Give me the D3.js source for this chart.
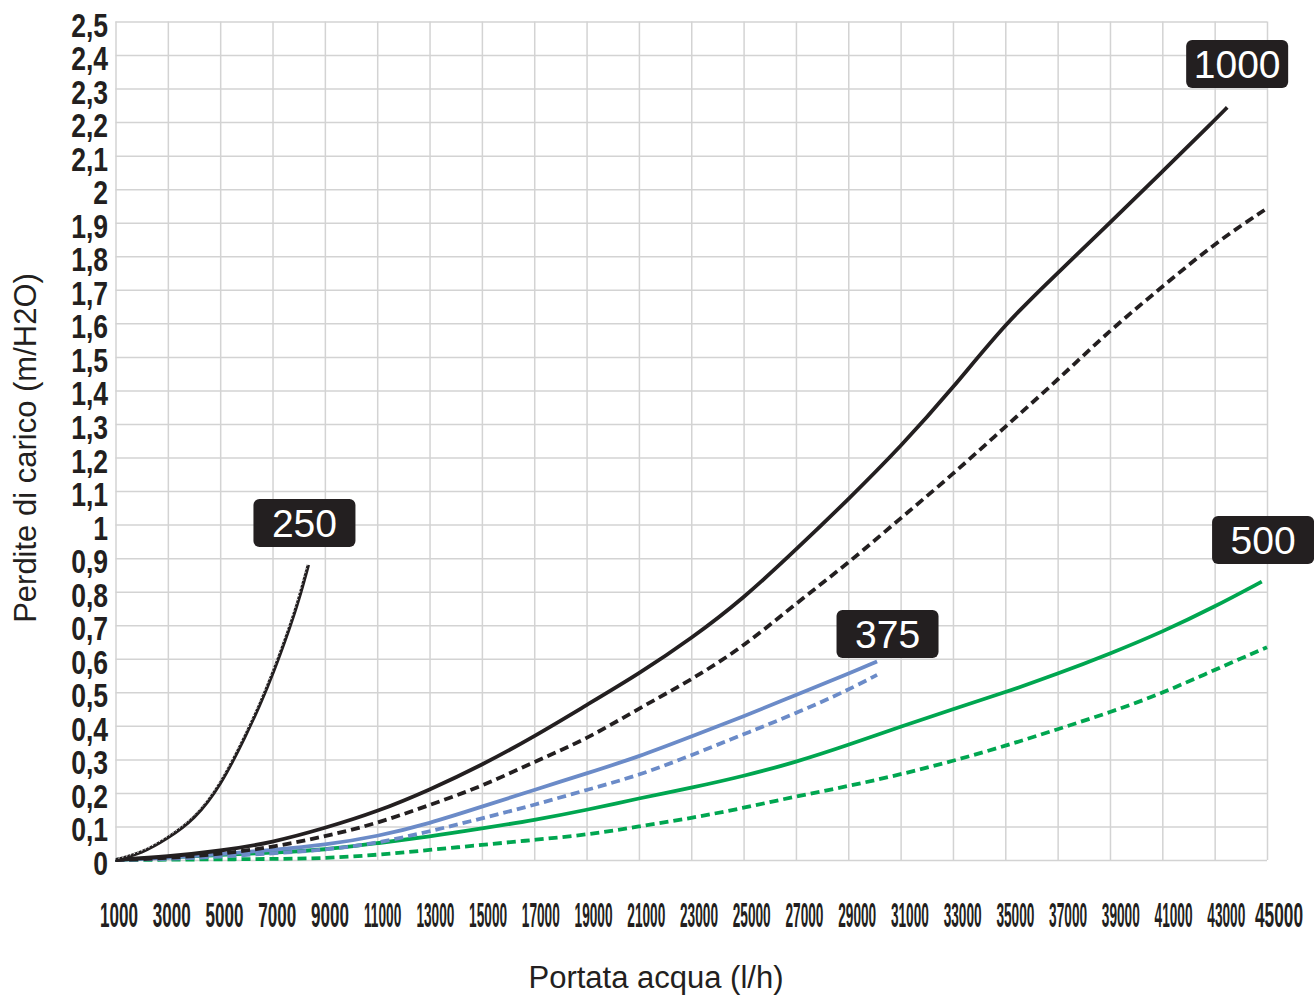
<!DOCTYPE html>
<html>
<head>
<meta charset="utf-8">
<script src="https://cdn.jsdelivr.net/npm/d3@7"></script>
<style>
  html, body { margin: 0; padding: 0; background: #fff; }
  svg { display: block; font-family: "Liberation Sans", Arial, sans-serif; }
</style>
</head>
<body>
<svg id="chart" width="1314" height="997"></svg>
<script>
// Pressure drop (m H2O) against water flow (l/h).
var xTicks = [1000, 3000, 5000, 7000, 9000, 11000, 13000, 15000, 17000, 19000, 21000, 23000,
  25000, 27000, 29000, 31000, 33000, 35000, 37000, 39000, 41000, 43000, 45000];
var yTicks = [0, 0.1, 0.2, 0.3, 0.4, 0.5, 0.6, 0.7, 0.8, 0.9, 1, 1.1, 1.2, 1.3, 1.4, 1.5,
  1.6, 1.7, 1.8, 1.9, 2, 2.1, 2.2, 2.3, 2.4, 2.5];

var flow250 = [1000, 2000, 3000, 4000, 5000, 6000, 6500, 7000, 7670, 8000, 8370];
var drop250 = [0, 0.02, 0.065, 0.12, 0.219, 0.375, 0.46, 0.552, 0.696, 0.775, 0.88];

var flow375 = [1000, 3000, 5000, 7000, 9000, 11000, 13000, 15000, 17000, 19000, 21000, 23000, 25000, 27000, 29000, 30100];
var drop375 = [0, 0.006, 0.017, 0.03, 0.045, 0.07, 0.109, 0.159, 0.209, 0.258, 0.308, 0.368, 0.428, 0.492, 0.555, 0.592];
var drop375b = [0, 0.003, 0.01, 0.02, 0.03, 0.05, 0.085, 0.124, 0.164, 0.209, 0.252, 0.312, 0.375, 0.437, 0.507, 0.552];

var flow500 = [1000, 3000, 5000, 7000, 9000, 11000, 13000, 15000, 17000, 19000, 21000, 23000, 25000,
  27000, 29000, 31000, 33000, 35000, 37000, 39000, 41000, 43000, 44800];
var drop500 = [0, 0.008, 0.015, 0.022, 0.03, 0.05, 0.07, 0.094, 0.119, 0.149, 0.184, 0.215, 0.25,
  0.292, 0.343, 0.398, 0.45, 0.5, 0.555, 0.615, 0.68, 0.755, 0.83];
var flow500b = [1000, 3000, 5000, 7000, 9000, 11000, 13000, 15000, 17000, 19000, 21000, 23000, 25000,
  27000, 29000, 31000, 33000, 35000, 37000, 39000, 41000, 43000, 45000];
var drop500b = [0, 0.001, 0.002, 0.003, 0.005, 0.015, 0.03, 0.045, 0.06, 0.075, 0.1, 0.125, 0.155,
  0.19, 0.22, 0.255, 0.295, 0.34, 0.39, 0.44, 0.497, 0.567, 0.634];

var flow1000 = [1000, 3000, 5000, 7000, 9000, 11000, 13000, 15000, 17000, 19000, 21000, 23000, 25000,
  27000, 29000, 31000, 33000, 35000, 37000, 39000, 41000, 43000, 43480];
var drop1000 = [0, 0.01, 0.027, 0.052, 0.095, 0.144, 0.209, 0.283, 0.368, 0.462, 0.555, 0.66, 0.78,
  0.925, 1.075, 1.232, 1.407, 1.6, 1.75, 1.9, 2.052, 2.206, 2.244];
var flow1000b = [1000, 3000, 5000, 7000, 9000, 11000, 13000, 15000, 17000, 19000, 21000, 23000, 25000,
  27000, 29000, 31000, 33000, 35000, 37000, 39000, 41000, 43000, 45000];
var drop1000b = [0, 0.005, 0.018, 0.038, 0.07, 0.109, 0.164, 0.219, 0.293, 0.36, 0.452, 0.537, 0.636,
  0.765, 0.885, 1.019, 1.15, 1.292, 1.431, 1.58, 1.709, 1.839, 1.943];

// tag boxes, anchored in data units
var tagNames = ["250", "375", "500", "1000"];
var tagFlow = [8220, 30500, 44850, 43860];
var tagDrop = [1.005, 0.674, 0.954, 2.373];

var BLACK = "#231f20", BLUE = "#6b8bc8", GREEN = "#00a650";

var svg = d3.select("#chart");
var plotL = 115.5, plotT = 21.5, plotR = 1267, plotB = 860;

var x = d3.scaleLinear().domain([1000, 45000]).range([plotL, plotR]);
var y = d3.scaleLinear().domain([0, 2.5]).range([plotB, plotT]);
// printed labels drift a little to the right of the grid
var xLab = d3.scaleLinear().domain([1000, 45000]).range([119, 1279]);

// grid
svg.append("g")
  .attr("transform", "translate(0," + plotB + ")")
  .call(d3.axisBottom(x).tickValues(xTicks).tickSize(-(plotB - plotT)).tickFormat(""))
  .call(function (g) {
    g.select(".domain").remove();
    g.selectAll("line").attr("stroke", "#d3d3d3").attr("stroke-width", 1.5);
  });
svg.append("g")
  .attr("transform", "translate(" + plotL + ",0)")
  .call(d3.axisLeft(y).tickValues(yTicks).tickSize(-(plotR - plotL)).tickFormat(""))
  .call(function (g) {
    g.select(".domain").remove();
    g.selectAll("line").attr("stroke", "#d3d3d3").attr("stroke-width", 1.5);
  });

// y tick labels, comma decimals, condensed bold
var fmt = function (v) { return String(+v.toFixed(1)).replace(".", ","); };
svg.append("g").selectAll("text")
  .data(yTicks).join("text")
  .attr("transform", function (d) { return "translate(108," + (y(d) + 15) + ") scale(0.78,1)"; })
  .attr("text-anchor", "end")
  .attr("font-size", 34).attr("font-weight", "bold").attr("fill", BLACK)
  .text(fmt);

// x tick labels: squeezed so every label is about the same width
svg.append("g").selectAll("text")
  .data(xTicks).join("text")
  .attr("transform", function (d, i) {
    var w = i === xTicks.length - 1 ? 48 : 38;
    var k = w / (String(d).length * 0.556 * 35);
    return "translate(" + xLab(d) + ",927) scale(" + k + ",1)";
  })
  .attr("text-anchor", "middle")
  .attr("font-size", 35).attr("font-weight", "bold").attr("fill", BLACK)
  .text(function (d) { return d; });

// axis titles
svg.append("text")
  .attr("x", 656).attr("y", 988)
  .attr("text-anchor", "middle").attr("font-size", 31).attr("fill", BLACK)
  .text("Portata acqua (l/h)");
svg.append("text")
  .attr("transform", "translate(36,448) rotate(-90)")
  .attr("text-anchor", "middle").attr("font-size", 31).attr("fill", BLACK)
  .text("Perdite di carico (m/H2O)");

// curves
function pts(xs, ys) { return xs.map(function (v, i) { return [v, ys[i]]; }); }
var line = d3.line()
  .x(function (d) { return x(d[0]); })
  .y(function (d) { return y(d[1]); })
  .curve(d3.curveBasis);

var series = [
  { data: pts(flow500b, drop500b), color: GREEN, dash: "9,5" },
  { data: pts(flow500, drop500), color: GREEN, dash: null },
  { data: pts(flow375, drop375b), color: BLUE, dash: "9,5" },
  { data: pts(flow375, drop375), color: BLUE, dash: null },
  { data: pts(flow1000b, drop1000b), color: BLACK, dash: "9,5" },
  { data: pts(flow1000, drop1000), color: BLACK, dash: null }
];

svg.append("g").selectAll("path")
  .data(series).join("path")
  .attr("d", function (d) { return line(d.data); })
  .attr("fill", "none")
  .attr("stroke", function (d) { return d.color; })
  .attr("stroke-width", 3.8)
  .attr("stroke-dasharray", function (d) { return d.dash; });

// the 250 curve: thin black line with a dotted white/black edge
var d250 = line(pts(flow250, drop250));
svg.append("path").attr("d", d250)
  .attr("fill", "none").attr("stroke", BLACK).attr("stroke-width", 3.4);
svg.append("path").attr("d", d250)
  .attr("transform", "translate(-1,-0.8)")
  .attr("fill", "none").attr("stroke", "#fff").attr("stroke-width", 1)
  .attr("stroke-dasharray", "1.5,2.5");

// tags
var tag = svg.append("g").selectAll("g")
  .data(tagNames).join("g")
  .attr("transform", function (d, i) { return "translate(" + x(tagFlow[i]) + "," + y(tagDrop[i]) + ")"; });
tag.append("rect")
  .attr("x", -51).attr("y", -24).attr("width", 102).attr("height", 48).attr("rx", 6)
  .attr("fill", BLACK);
tag.append("text")
  .attr("y", 14).attr("text-anchor", "middle")
  .attr("font-size", 39).attr("fill", "#fff")
  .text(function (d) { return d; });
</script>
</body>
</html>
